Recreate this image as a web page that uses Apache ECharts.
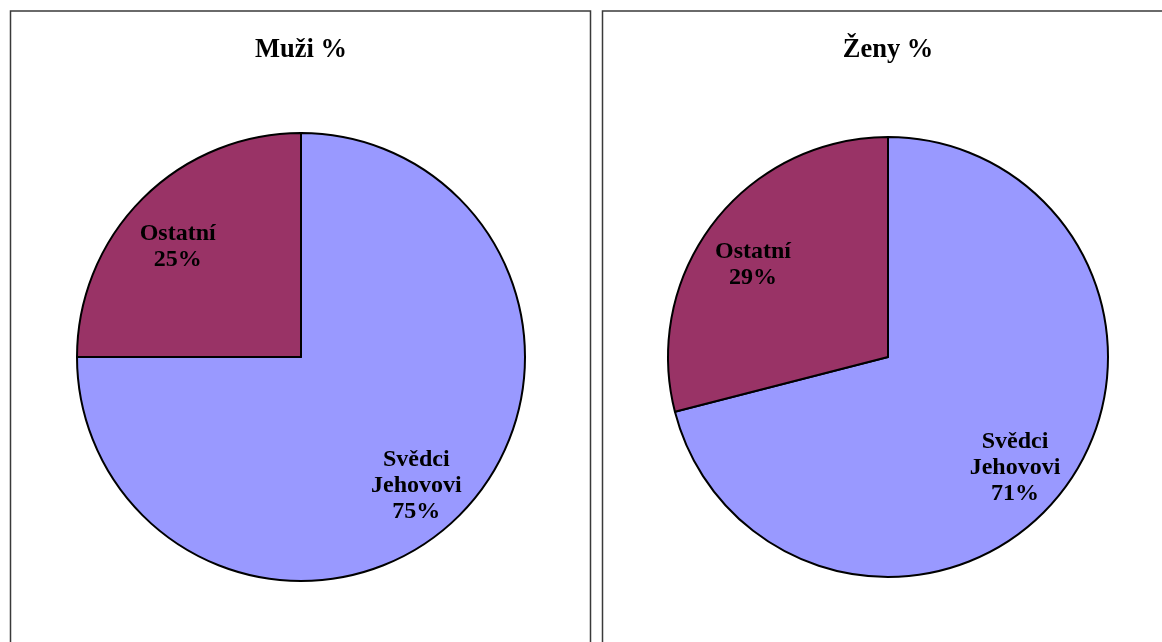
<!DOCTYPE html>
<html>
<head>
<meta charset="utf-8">
<script src="https://cdn.jsdelivr.net/npm/echarts@6/dist/echarts.min.js"></script>
<style>
  html, body { margin: 0; padding: 0; background: #fff; }
  #chart { width: 1162px; height: 642px; }
</style>
</head>
<body>
<div id="chart"></div>
<script>
var categories = ['Svědci\nJehovovi', 'Ostatní'];
var muziValues = [75, 25];
var zenyValues = [71, 29];
var titles = ['Muži %', 'Ženy %'];
var colors = ['#9999FF', '#993366'];

var font = '"Liberation Serif", "Times New Roman", serif';

function toData(values) {
    return values.map(function (v, i) {
        return { name: categories[i], value: v, itemStyle: { color: colors[i] } };
    });
}

// main pie + a transparent ring on top that only carries the labels further out
function pies(values, center, radius) {
    return [{
        type: 'pie',
        center: center,
        radius: [0, radius],
        startAngle: 90,
        clockwise: true,
        silent: true,
        label: { show: false },
        labelLine: { show: false },
        itemStyle: { borderColor: '#000', borderWidth: 2 },
        data: toData(values)
    }, {
        type: 'pie',
        center: center,
        radius: [radius * 0.48, radius],
        startAngle: 90,
        clockwise: true,
        silent: true,
        itemStyle: { color: 'transparent', borderWidth: 0 },
        label: {
            show: true,
            position: 'inside',
            formatter: '{b}\n{c}%',
            fontFamily: font,
            fontWeight: 'bold',
            fontSize: 24,
            lineHeight: 26,
            color: '#000',
            offset: [-4, 9]
        },
        labelLine: { show: false },
        data: values.map(function (v, i) { return { name: categories[i], value: v }; })
    }];
}

var mychart = echarts.init(document.getElementById('chart'));
mychart.setOption({
    animation: false,
    backgroundColor: '#fff',
    title: [
        { text: titles[0], left: 296, top: 32, textAlign: 'center',
          textStyle: { fontFamily: font, fontWeight: 'bold', fontSize: 26.5, color: '#000' } },
        { text: titles[1], left: 883, top: 32, textAlign: 'center',
          textStyle: { fontFamily: font, fontWeight: 'bold', fontSize: 26.5, color: '#000' } }
    ],
    graphic: [
        { type: 'rect', shape: { x: 10.5, y: 11, width: 580, height: 700 },
          style: { fill: null, stroke: '#3a3a3a', lineWidth: 1.5 }, z: -1 },
        { type: 'rect', shape: { x: 602.5, y: 11, width: 700, height: 700 },
          style: { fill: null, stroke: '#3a3a3a', lineWidth: 1.5 }, z: -1 }
    ],
    series: pies(muziValues, [301, 357], 224).concat(pies(zenyValues, [888, 357], 220))
});
window.addEventListener('resize', function () {
    mychart.resize();
});
</script>
</body>
</html>
